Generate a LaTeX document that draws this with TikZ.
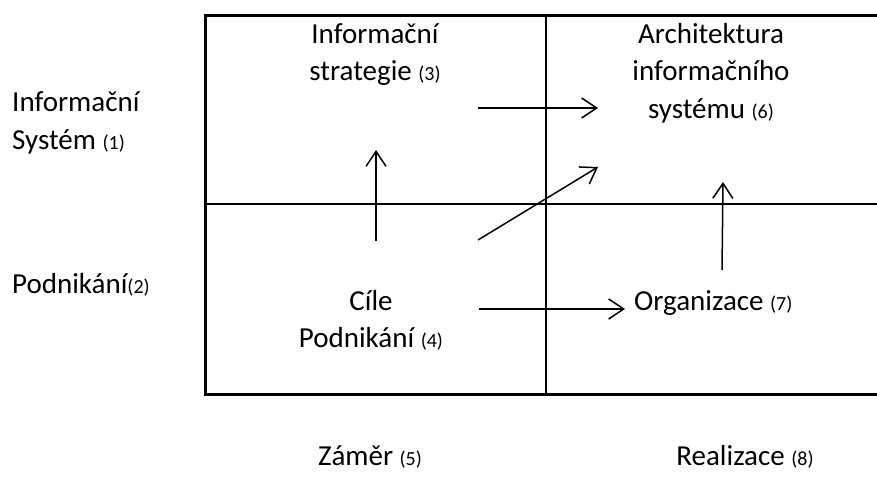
\documentclass[tikz,border=0pt]{standalone}
\usepackage{fontspec}
\setmainfont{Carlito}
\usetikzlibrary{arrows.meta}
\newcommand\numtag[1]{{\fontsize{20}{24}\selectfont(#1)}}
\begin{document}
\begin{tikzpicture}[x=1pt,y=-1pt,
  gridline/.style={line width=2.6pt},
  flow/.style={line width=1.5pt,
    -{Straight Barb[length=15pt,width=20pt,line width=1.5pt]}},
  lbl/.style={font=\fontsize{29}{37}\selectfont, inner sep=0pt, anchor=base}
]
\useasboundingbox (0,0) rectangle (877,476);

% matrix frame (open on the right side)
\draw[gridline] (880,15.5) -- (205.5,15.5) -- (205.5,394.5) -- (880,394.5);
\draw[gridline] (546,15.5) -- (546,394.5);
\draw[gridline] (205.5,204) -- (880,204);

% row labels (multi-line nodes are anchored at the last baseline)
\node[lbl, anchor=base west, align=left] (is1) at (12,149) {Informační\\Systém \numtag{1}};
\node[lbl, anchor=base west] (p2) at (12,293) {Podnikání\numtag{2}};

% cell texts
\node[lbl, align=center] (is3) at (375,81) {Informační\\strategie \numtag{3}};
\node[lbl, align=center] (ais6) at (711,118) {Architektura\\informačního\\systému \numtag{6}};
\node[lbl, align=center] (cp4) at (371,347) {Cíle\\Podnikání \numtag{4}};
\node[lbl, anchor=base west] (org7) at (634,310) {Organizace \numtag{7}};

% column labels
\node[lbl] (z5) at (370,465) {Záměr \numtag{5}};
\node[lbl] (r8) at (745,465) {Realizace \numtag{8}};

% arrow end points
\coordinate (a1s) at (478,108);
\coordinate (a1e) at (598,108);
\coordinate (a2s) at (478,240);
\coordinate (a2e) at (598,167);
\coordinate (a3s) at (376,241);
\coordinate (a3e) at (376,150);
\coordinate (a4s) at (479,309);
\coordinate (a4e) at (625,309);
\coordinate (a5s) at (722,270);
\coordinate (a5e) at (723,182);

\draw[flow] (a1s) -- (a1e);
\draw[flow] (a2s) -- (a2e);
\draw[flow] (a3s) -- (a3e);
\draw[flow] (a4s) -- (a4e);
\draw[flow] (a5s) -- (a5e);
\end{tikzpicture}
\end{document}
